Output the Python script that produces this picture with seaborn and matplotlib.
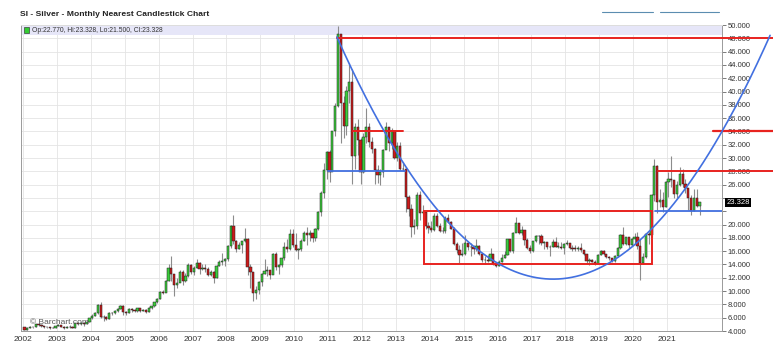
import matplotlib
matplotlib.use("Agg")
import matplotlib.pyplot as plt
from matplotlib.patches import Rectangle
from matplotlib.lines import Line2D
import numpy as np
import pandas as pd
import seaborn as sns

# monthly silver prices, Jan 2002 - Dec 2021
first_open = 4.62
closes = [
    4.22, 4.47, 4.60, 4.57, 4.98, 4.92, 4.68, 4.59, 4.55, 4.42, 4.52, 4.79,
    4.89, 4.63, 4.40, 4.56, 4.60, 4.51, 5.15, 5.03, 5.16, 5.05, 5.36, 5.96,
    6.32, 6.70, 7.95, 6.10, 6.07, 5.86, 6.64, 6.77, 6.98, 7.33, 7.74, 6.82,
    6.70, 7.36, 7.13, 6.96, 7.40, 7.05, 7.21, 6.81, 7.51, 7.72, 8.29, 8.83,
    9.86, 9.70, 11.55, 13.45, 12.50, 10.86, 11.27, 12.90, 11.55, 12.25, 13.95, 12.90,
    13.44, 14.20, 13.32, 13.41, 13.37, 12.37, 12.89, 12.03, 13.82, 14.32, 14.52, 14.76,
    16.85, 19.80, 17.47, 16.40, 16.86, 17.50, 17.78, 13.69, 12.87, 9.72, 10.17, 11.30,
    12.55, 12.95, 13.14, 12.42, 15.62, 13.65, 13.94, 14.91, 16.63, 16.32, 18.52, 16.87,
    16.19, 16.37, 17.55, 18.72, 18.37, 18.70, 18.02, 19.40, 21.90, 24.67, 28.20, 30.92,
    27.90, 34.01, 37.87, 48.58, 38.25, 34.84, 40.07, 41.47, 30.37, 34.62, 32.70, 27.91,
    33.16, 34.62, 32.46, 31.32, 28.26, 27.51, 27.85, 31.17, 34.64, 32.31, 34.03, 30.04,
    31.74, 28.34, 28.41, 24.14, 22.29, 19.69, 19.80, 24.42, 21.72, 21.87, 19.79, 19.46,
    19.14, 21.25, 19.78, 19.04, 19.07, 21.02, 20.38, 19.40, 17.05, 16.23, 15.48, 15.60,
    17.18, 16.56, 16.62, 16.29, 16.75, 15.58, 14.73, 14.60, 14.53, 15.55, 14.14, 13.82,
    14.31, 15.00, 15.44, 17.83, 16.06, 18.70, 20.26, 18.69, 19.24, 17.72, 16.54, 15.99,
    17.48, 18.32, 18.22, 17.20, 17.42, 16.58, 16.66, 17.40, 16.67, 16.68, 16.42, 17.15,
    17.25, 16.53, 16.36, 16.35, 16.44, 16.11, 15.57, 14.52, 14.69, 14.37, 14.13, 15.50,
    16.10, 15.63, 15.11, 14.96, 14.58, 15.33, 16.42, 18.38, 17.03, 18.08, 16.97, 17.85,
    18.06, 16.71, 14.19, 15.06, 18.56, 18.47, 24.48, 28.85, 23.44, 23.73, 22.65, 26.41,
    26.91, 26.64, 24.53, 25.97, 27.55, 26.09, 25.55, 23.98, 22.04, 24.01, 22.77, 23.328,
]
highs = [
    4.65, 4.55, 4.70, 4.66, 5.05, 5.10, 5.05, 4.70, 4.65, 4.60, 4.62, 4.82,
    5.00, 4.95, 4.68, 4.70, 4.85, 4.70, 5.20, 5.30, 5.30, 5.22, 5.40, 6.00,
    6.50, 6.90, 8.10, 8.29, 6.35, 6.30, 6.80, 6.90, 7.10, 7.50, 7.90, 7.85,
    7.00, 7.40, 7.50, 7.30, 7.45, 7.50, 7.30, 7.25, 7.55, 7.80, 8.40, 8.95,
    10.00, 10.20, 11.70, 14.10, 15.20, 12.30, 11.90, 13.15, 13.10, 12.70, 14.20, 14.00,
    13.80, 14.80, 14.30, 14.10, 14.00, 13.60, 13.20, 13.00, 13.90, 14.60, 15.80, 15.00,
    17.00, 20.00, 21.40, 17.70, 17.40, 17.60, 19.50, 18.00, 14.00, 12.80, 10.80, 11.50,
    12.70, 14.75, 13.80, 13.20, 15.80, 15.90, 14.00, 15.00, 17.40, 17.80, 19.40, 19.30,
    18.80, 16.50, 17.80, 19.00, 19.60, 19.20, 18.80, 19.50, 22.00, 25.00, 29.30, 31.00,
    31.20, 34.10, 38.20, 49.80, 48.30, 39.40, 40.90, 44.30, 43.40, 35.30, 35.80, 33.00,
    33.80, 37.50, 35.20, 33.10, 31.50, 29.00, 28.30, 31.30, 35.40, 34.60, 34.50, 34.10,
    32.40, 32.40, 29.40, 28.60, 24.40, 23.10, 20.80, 24.90, 25.10, 22.90, 21.90, 20.40,
    20.60, 21.80, 21.80, 20.30, 19.70, 21.30, 21.60, 20.60, 19.60, 17.40, 16.90, 17.30,
    18.50, 17.40, 17.20, 16.90, 17.80, 16.90, 15.70, 15.20, 15.40, 16.50, 15.60, 14.40,
    14.60, 15.60, 16.00, 17.90, 17.80, 18.90, 21.20, 20.20, 19.80, 19.20, 18.00, 17.00,
    17.60, 18.40, 18.50, 18.60, 17.60, 17.40, 17.00, 17.90, 18.20, 17.40, 17.40, 17.20,
    17.70, 17.20, 16.90, 16.90, 16.80, 17.30, 15.90, 15.50, 14.90, 14.80, 14.70, 15.60,
    16.20, 16.20, 15.60, 15.20, 14.90, 15.50, 16.60, 18.60, 19.70, 18.20, 17.80, 18.00,
    18.80, 18.90, 17.80, 15.80, 18.70, 18.90, 24.60, 29.90, 28.90, 25.40, 24.90, 26.60,
    27.90, 30.35, 26.60, 26.60, 28.70, 28.30, 26.80, 24.80, 24.40, 25.40, 25.40, 23.328,
]
lows = [
    4.21, 4.20, 4.45, 4.50, 4.55, 4.80, 4.65, 4.50, 4.45, 4.35, 4.40, 4.50,
    4.70, 4.55, 4.35, 4.38, 4.52, 4.45, 4.50, 4.95, 4.92, 4.80, 5.00, 5.35,
    5.85, 6.25, 6.60, 5.95, 5.50, 5.60, 5.75, 6.35, 6.50, 6.90, 7.25, 6.45,
    6.40, 6.65, 6.85, 6.80, 6.90, 6.85, 6.95, 6.75, 6.80, 7.35, 7.60, 8.20,
    8.80, 9.50, 9.80, 11.50, 11.50, 9.20, 10.50, 11.30, 10.90, 11.30, 12.10, 12.55,
    12.40, 13.40, 12.60, 13.10, 12.90, 12.20, 12.30, 11.20, 11.90, 13.70, 13.90, 13.80,
    14.50, 16.50, 17.10, 15.90, 16.40, 15.80, 17.40, 12.40, 10.50, 8.45, 8.80, 9.50,
    10.75, 12.50, 12.20, 11.80, 12.60, 13.10, 12.50, 13.60, 14.70, 15.90, 16.20, 16.70,
    16.00, 14.80, 16.00, 17.50, 17.00, 17.60, 17.40, 17.60, 19.20, 21.30, 24.00, 26.80,
    26.40, 28.00, 33.30, 37.70, 32.30, 33.00, 33.50, 38.20, 26.10, 28.30, 30.50, 26.10,
    27.70, 32.30, 31.70, 30.70, 26.10, 26.20, 26.00, 27.20, 31.30, 31.00, 31.30, 29.90,
    29.60, 28.20, 28.00, 21.90, 21.30, 18.20, 18.60, 19.40, 20.70, 20.80, 19.30, 18.80,
    18.90, 19.10, 19.60, 18.90, 18.70, 18.70, 20.20, 19.30, 16.90, 15.70, 14.20, 15.20,
    15.50, 16.20, 15.30, 15.60, 16.10, 15.50, 14.30, 14.00, 14.40, 15.10, 13.90, 13.60,
    13.70, 14.30, 14.90, 15.40, 15.90, 15.80, 19.10, 18.60, 18.50, 17.00, 16.40, 15.70,
    15.90, 17.40, 17.10, 17.00, 16.40, 16.40, 15.20, 16.60, 16.60, 16.50, 16.30, 15.60,
    17.00, 16.40, 16.10, 16.10, 16.10, 15.90, 15.40, 14.00, 13.90, 14.30, 13.90, 14.30,
    15.40, 15.50, 14.90, 14.70, 14.30, 14.40, 15.10, 16.30, 16.90, 16.90, 16.50, 16.80,
    17.30, 16.40, 11.60, 14.10, 14.90, 17.10, 18.20, 23.60, 21.70, 22.70, 21.90, 22.70,
    24.10, 25.70, 24.00, 24.00, 25.80, 25.60, 24.80, 22.20, 21.40, 22.00, 22.70, 21.50,
]
year_ticks = list(range(2002, 2022))
y_ticks = list(range(4, 51, 2))
last_price = 23.328

# drawn trend annotations (decimal years, price)
red_levels = [(48.0, 2011.26), (28.0, 2020.73)]      # run to the image edge
red_segments = [(34.0, 2011.73, 2013.20)]
blue_segments = [(28.0, 2011.00, 2013.27), (22.0, 2020.64, 2022.62)]
red_box = (2013.83, 2020.55, 14.0, 22.0)
arc_points_t = [2011.26, 2017.60, 2022.62]
arc_points_p = [48.2, 11.8, 34.0]

df = pd.DataFrame({"close": closes, "high": highs, "low": lows})
df["open"] = [first_open] + closes[:-1]
df["t"] = 2002 + (np.arange(len(df)) + 0.5) / 12

sns.set_style("white")
plt.rcParams["font.family"] = ["Liberation Sans", "DejaVu Sans"]

W, H = 773, 359
fig = plt.figure(figsize=(W / 100, H / 100), dpi=100)
ax = fig.add_axes([21 / W, 28 / H, 701 / W, 306 / H])
xmin, xmax = 2001.94, 2022.62
ax.set_xlim(xmin, xmax)
ax.set_ylim(4, 50)

ax.set_xticks(year_ticks)
ax.set_xticklabels([str(y) for y in year_ticks])
ax.set_yticks(y_ticks)
# the 24.000 label sits under the last-price tag
ax.set_yticklabels(["" if abs(v - last_price) < 1.5 else f"{v:.3f}" for v in y_ticks])
ax.yaxis.tick_right()
ax.grid(True, color="#e4e4e4", lw=0.6, zorder=0)
ax.set_axisbelow(True)
ax.tick_params(axis="x", length=0, labelsize=6, pad=3.5, labelcolor="#333333")
ax.tick_params(axis="y", length=3, width=0.6, color="#666666", labelsize=5.5,
               pad=1, labelcolor="#333333")
for s in ax.spines.values():
    s.set_color("#9a9a9a")
    s.set_linewidth(0.7)
ax.spines["top"].set_color("#dddddd")

# header band
band = 10 / 306
ax.add_patch(Rectangle((0, 1 - band), 1, band, transform=ax.transAxes,
                       facecolor="#e6e6f8", edgecolor="none", zorder=1))
ax.add_patch(Rectangle((3 / 701, 1 - band + 2.5 / 306), 5 / 701, 5 / 306,
                       transform=ax.transAxes, facecolor="#33cc33",
                       edgecolor="#222222", lw=0.4, zorder=6))
ax.text(11 / 701, 1 - band / 2, "Op:22.770, Hi:23.328, Lo:21.500, Cl:23.328",
        transform=ax.transAxes, fontsize=4.9, va="center", color="#333333", zorder=6)

# candles
ax.vlines(df["t"], df["low"], df["high"], color="#8c8c8c", lw=0.8, zorder=2)
up = df["close"] >= df["open"]
body_bottom = np.minimum(df["open"], df["close"])
body_h = np.maximum((df["close"] - df["open"]).abs(), 0.06)
ax.bar(df["t"][up], body_h[up], bottom=body_bottom[up], width=0.066,
       color="#3ccc3c", edgecolor="#1f1f1f", lw=0.35, zorder=3)
ax.bar(df["t"][~up], body_h[~up], bottom=body_bottom[~up], width=0.066,
       color="#cc1a1a", edgecolor="#1f1f1f", lw=0.35, zorder=3)

# annotations
red, blue = "#e8231f", "#4270e0"
edge = (W - 21) / 701


def frac(t):
    return (t - xmin) / (xmax - xmin)


ytr = ax.get_yaxis_transform()
for lvl, t0 in red_levels:
    ax.plot([frac(t0), edge], [lvl, lvl], transform=ytr, color=red, lw=1.4,
            clip_on=False, zorder=5)
ax.plot([(713 - 21) / 701, edge], [34, 34], transform=ytr, color=red, lw=1.6,
        clip_on=False, zorder=5)
for lvl, t0, t1 in red_segments:
    ax.plot([t0, t1], [lvl, lvl], color=red, lw=1.4, zorder=5)
for lvl, t0, t1 in blue_segments:
    ax.plot([t0, t1], [lvl, lvl], color=blue, lw=1.3, zorder=5)
x0, x1, y0, y1 = red_box
ax.add_patch(Rectangle((x0, y0), x1 - x0, y1 - y0, fill=False, edgecolor=red,
                       lw=1.4, zorder=5))

coef = np.polyfit(arc_points_t, arc_points_p, 2)
t_arc = np.linspace(arc_points_t[0], xmin + edge * (xmax - xmin), 300)
arc = pd.DataFrame({"t": t_arc, "p": np.polyval(coef, t_arc)})
arc = arc[arc["p"] <= 48.6]
sns.lineplot(data=arc, x="t", y="p", ax=ax, color=blue, lw=1.2, zorder=5,
             clip_on=False)
ax.set_xlabel("")
ax.set_ylabel("")

# last price tag and watermark
ax.text(1.006, last_price, f"{last_price:.3f}", transform=ytr, fontsize=5.5,
        color="white", va="center", ha="left", zorder=10,
        bbox=dict(boxstyle="square,pad=0.15", facecolor="black", edgecolor="none"))
ax.text(9 / 701, 9 / 306, "\u00a9 Barchart.com", transform=ax.transAxes,
        fontsize=6, color="#555555", va="center", zorder=6)

fig.text(20 / W, 1 - 14 / H, "SI - Silver - Monthly Nearest Candlestick Chart",
         fontsize=6.1, weight="bold", va="center", color="#222222")
for a, b in [(602, 653), (660, 719)]:
    fig.add_artist(Line2D([a / W, b / W], [1 - 12 / H, 1 - 12 / H],
                          color="#5b8db0", lw=0.8))

fig.savefig("out.png", dpi=100)
